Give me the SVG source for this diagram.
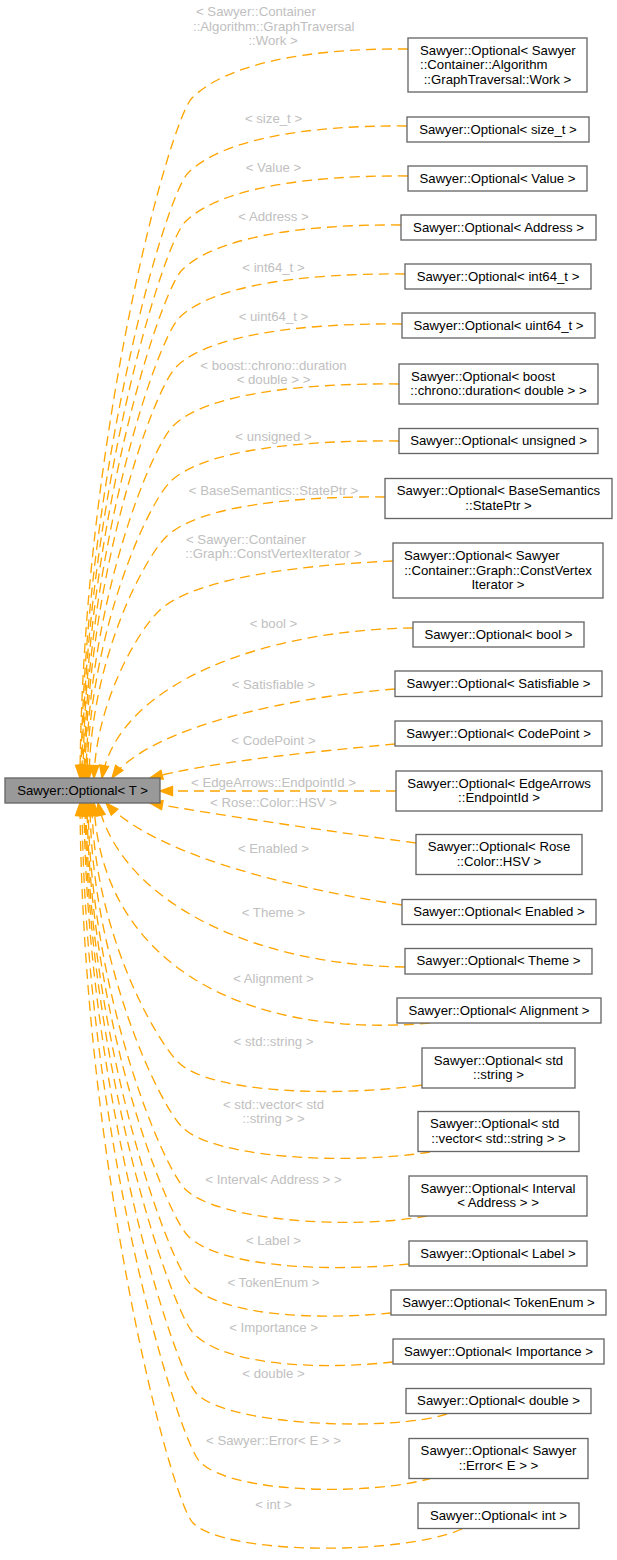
<svg xmlns="http://www.w3.org/2000/svg" width="617" height="1560" viewBox="0 0 617 1560">
<style>
text{font-family:"Liberation Sans",Arial,Helvetica,sans-serif;font-size:13.2px}
.n rect{fill:#ffffff;stroke:#666666;stroke-width:1.33}
.n text{fill:#000000;text-anchor:middle}
.n text.l{text-anchor:start}
#main rect{fill:#999999}
.e path{fill:none;stroke:#ffa500;stroke-width:1.33;stroke-dasharray:10,6;marker-end:url(#ah)}
.lb text{fill:#c0c0c0;text-anchor:middle}
.lb text.l{text-anchor:start}
</style>
<defs>
<marker id="ah" markerUnits="userSpaceOnUse" markerWidth="15" markerHeight="11" viewBox="-1 -1 15 11" refX="12.5" refY="4.5" orient="auto" overflow="visible">
<path d="M0,0 L12.5,4.5 L0,9 Z" fill="#ffa500" stroke="#ffa500" stroke-width="1.33"/>
</marker>
</defs>
<rect x="0" y="0" width="617" height="1560" fill="#ffffff"/>
<g id="edges" class="e">
<path d="M408,49 C300,48 224,66 192,98 C170,120 82,438 80,778"/>
<path d="M407,126 C300,125 220,141 188,173 C166,195 83,475 81,778"/>
<path d="M408,176 C300,175 217,190 185,222 C163,244 84,500 82,778"/>
<path d="M401,225 C300,224 214,238 182,270 C160,292 85,524 83,778"/>
<path d="M405,274 C300,273 211,286 179,318 C157,340 86,548 84,778"/>
<path d="M402,324 C300,323 208,335 176,367 C154,389 87,572 85,778"/>
<path d="M399,384 C300,383 205,394 173,426 C151,448 88,602 86,778"/>
<path d="M399,441 C300,440 202,450 170,482 C148,504 89,630 87,778"/>
<path d="M385,497 C300,496 198,505 166,537 C144,559 91,657 89,778"/>
<path d="M393,561 C300,565 195,578 160,610 C140,628 96,700 94,778"/>
<path d="M413,628 C260,630 118,685 102,778"/>
<path d="M395,689 C300,696 150,725 112,778"/>
<path d="M395,744 C310,752 210,762 150,778"/>
<path d="M396,791 L160,791"/>
<path d="M416,843 C320,830 220,815 150,803"/>
<path d="M402,905 C270,885 150,850 106,803"/>
<path d="M405,967 C250,965 120,900 98,803"/>
<path d="M430,1023 C240,1040 100,960 94,803"/>
<path d="M422,1085 C340,1097 210,1094 178,1062 C156,1040 93,932 92,803"/>
<path d="M430,1152 C350,1165 214,1159 182,1127 C160,1105 91,965 90,803"/>
<path d="M427,1216 C350,1230 217,1221 185,1189 C163,1167 90,996 88,803"/>
<path d="M409,1264 C330,1272 220,1268 188,1236 C166,1214 89,1020 87,803"/>
<path d="M391,1313 C320,1320 223,1317 191,1285 C169,1263 88,1044 86,803"/>
<path d="M393,1362 C320,1370 226,1366 194,1334 C172,1312 87,1068 85,803"/>
<path d="M447,1414 C390,1432 229,1426 197,1394 C175,1372 86,1098 84,803"/>
<path d="M432,1478 C370,1496 232,1494 200,1462 C178,1440 84,1132 82,803"/>
<path d="M462,1529 C400,1556 225,1555 193,1523 C171,1501 82,1163 80,803"/>
</g>
<g id="edge-labels" class="lb">
<text class="l" x="196" y="16">&lt; Sawyer::Container</text>
<text class="l" x="193" y="30.5">::Algorithm::GraphTraversal</text>
<text x="273" y="45">::Work &gt;</text>
<text x="273.5" y="122.5">&lt; size_t &gt;</text>
<text x="273.5" y="171.5">&lt; Value &gt;</text>
<text x="273.5" y="220.5">&lt; Address &gt;</text>
<text x="273.5" y="271.5">&lt; int64_t &gt;</text>
<text x="273.5" y="320.5">&lt; uint64_t &gt;</text>
<text x="273.5" y="369.5">&lt; boost::chrono::duration</text>
<text x="273.5" y="384">&lt; double &gt; &gt;</text>
<text x="273.5" y="440.5">&lt; unsigned &gt;</text>
<text x="273.5" y="494.5">&lt; BaseSemantics::StatePtr &gt;</text>
<text class="l" x="186" y="543.5">&lt; Sawyer::Container</text>
<text x="273.5" y="558">::Graph::ConstVertexIterator &gt;</text>
<text x="273.5" y="627.8">&lt; bool &gt;</text>
<text x="273.5" y="688.5">&lt; Satisfiable &gt;</text>
<text x="273.5" y="745.2">&lt; CodePoint &gt;</text>
<text x="273.5" y="786.5">&lt; EdgeArrows::EndpointId &gt;</text>
<text x="273.5" y="807.2">&lt; Rose::Color::HSV &gt;</text>
<text x="273.5" y="852.8">&lt; Enabled &gt;</text>
<text x="273.5" y="917.2">&lt; Theme &gt;</text>
<text x="273.5" y="982.8">&lt; Alignment &gt;</text>
<text x="273.5" y="1045.5">&lt; std::string &gt;</text>
<text x="273.5" y="1108.5">&lt; std::vector&lt; std</text>
<text x="273.5" y="1123">::string &gt; &gt;</text>
<text x="273.5" y="1183.5">&lt; Interval&lt; Address &gt; &gt;</text>
<text x="273.5" y="1244.5">&lt; Label &gt;</text>
<text x="273.5" y="1286.5">&lt; TokenEnum &gt;</text>
<text x="273.5" y="1331.5">&lt; Importance &gt;</text>
<text x="273.5" y="1377.5">&lt; double &gt;</text>
<text x="273.5" y="1445.2">&lt; Sawyer::Error&lt; E &gt; &gt;</text>
<text x="273.5" y="1508.5">&lt; int &gt;</text>
</g>
<g id="main" class="n"><rect x="5" y="778" width="155" height="25"/><text x="82.5" y="794.5">Sawyer::Optional&lt; T &gt;</text></g>
<g id="n1" class="n"><rect x="408" y="38" width="179" height="54"/><text class="l" x="420" y="54.5">Sawyer::Optional&lt; Sawyer</text><text class="l" x="420" y="69">::Container::Algorithm</text><text x="497.5" y="83.5">::GraphTraversal::Work &gt;</text></g>
<g id="n2" class="n"><rect x="407" y="117" width="182" height="25"/><text x="498" y="133.5">Sawyer::Optional&lt; size_t &gt;</text></g>
<g id="n3" class="n"><rect x="408" y="166" width="179" height="25"/><text x="497.5" y="182.5">Sawyer::Optional&lt; Value &gt;</text></g>
<g id="n4" class="n"><rect x="401" y="215" width="195" height="25"/><text x="498.5" y="231.5">Sawyer::Optional&lt; Address &gt;</text></g>
<g id="n5" class="n"><rect x="405" y="264" width="186" height="25"/><text x="498" y="280.5">Sawyer::Optional&lt; int64_t &gt;</text></g>
<g id="n6" class="n"><rect x="402" y="313" width="193" height="25"/><text x="498.5" y="329.5">Sawyer::Optional&lt; uint64_t &gt;</text></g>
<g id="n7" class="n"><rect x="399" y="364" width="199" height="40"/><text class="l" x="411" y="380.75">Sawyer::Optional&lt; boost</text><text x="498.5" y="395.25">::chrono::duration&lt; double &gt; &gt;</text></g>
<g id="n8" class="n"><rect x="399" y="428.5" width="199" height="25"/><text x="498.5" y="445">Sawyer::Optional&lt; unsigned &gt;</text></g>
<g id="n9" class="n"><rect x="385" y="478.5" width="227" height="40"/><text x="498.5" y="495.25">Sawyer::Optional&lt; BaseSemantics</text><text x="498.5" y="509.75">::StatePtr &gt;</text></g>
<g id="n10" class="n"><rect x="393" y="543" width="210" height="55"/><text class="l" x="404" y="560">Sawyer::Optional&lt; Sawyer</text><text x="498" y="574.5">::Container::Graph::ConstVertex</text><text x="498" y="589">Iterator &gt;</text></g>
<g id="n11" class="n"><rect x="413" y="622" width="171" height="25"/><text x="498.5" y="638.5">Sawyer::Optional&lt; bool &gt;</text></g>
<g id="n12" class="n"><rect x="395" y="671" width="207" height="25.5"/><text x="498.5" y="687.75">Sawyer::Optional&lt; Satisfiable &gt;</text></g>
<g id="n13" class="n"><rect x="395" y="721" width="207" height="25"/><text x="498.5" y="737.5">Sawyer::Optional&lt; CodePoint &gt;</text></g>
<g id="n14" class="n"><rect x="396" y="771" width="206" height="40"/><text x="499" y="787.75">Sawyer::Optional&lt; EdgeArrows</text><text x="499" y="802.25">::EndpointId &gt;</text></g>
<g id="n15" class="n"><rect x="416" y="834.5" width="166" height="40"/><text x="499" y="851.25">Sawyer::Optional&lt; Rose</text><text x="499" y="865.75">::Color::HSV &gt;</text></g>
<g id="n16" class="n"><rect x="402" y="899.5" width="194" height="25"/><text x="499" y="916">Sawyer::Optional&lt; Enabled &gt;</text></g>
<g id="n17" class="n"><rect x="405" y="948.5" width="187" height="25.5"/><text x="498.5" y="965.25">Sawyer::Optional&lt; Theme &gt;</text></g>
<g id="n18" class="n"><rect x="397" y="998" width="204" height="25"/><text x="499" y="1014.5">Sawyer::Optional&lt; Alignment &gt;</text></g>
<g id="n19" class="n"><rect x="422" y="1048" width="153" height="40"/><text x="498.5" y="1064.75">Sawyer::Optional&lt; std</text><text x="498.5" y="1079.25">::string &gt;</text></g>
<g id="n20" class="n"><rect x="418" y="1111.5" width="161" height="40"/><text class="l" x="430" y="1128.25">Sawyer::Optional&lt; std</text><text x="498.5" y="1142.75">::vector&lt; std::string &gt; &gt;</text></g>
<g id="n21" class="n"><rect x="409" y="1176" width="178" height="40"/><text x="498" y="1192.75">Sawyer::Optional&lt; Interval</text><text x="498" y="1207.25">&lt; Address &gt; &gt;</text></g>
<g id="n22" class="n"><rect x="409" y="1241" width="178" height="25"/><text x="498" y="1257.5">Sawyer::Optional&lt; Label &gt;</text></g>
<g id="n23" class="n"><rect x="391" y="1290" width="215" height="25"/><text x="498.5" y="1306.5">Sawyer::Optional&lt; TokenEnum &gt;</text></g>
<g id="n24" class="n"><rect x="393" y="1339" width="211" height="25"/><text x="498.5" y="1355.5">Sawyer::Optional&lt; Importance &gt;</text></g>
<g id="n25" class="n"><rect x="406" y="1388.5" width="185" height="25"/><text x="498.5" y="1405">Sawyer::Optional&lt; double &gt;</text></g>
<g id="n26" class="n"><rect x="409" y="1438.5" width="179" height="40"/><text x="498.5" y="1455.25">Sawyer::Optional&lt; Sawyer</text><text x="498.5" y="1469.75">::Error&lt; E &gt; &gt;</text></g>
<g id="n27" class="n"><rect x="418" y="1503" width="161" height="25.5"/><text x="498.5" y="1519.75">Sawyer::Optional&lt; int &gt;</text></g>
</svg>
